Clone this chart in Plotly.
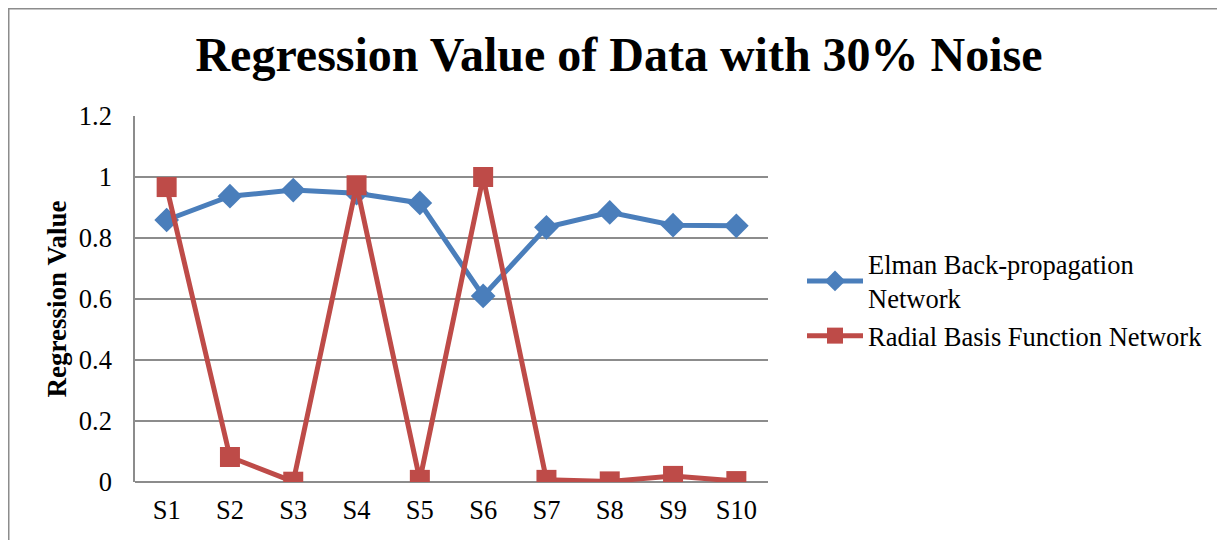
import plotly.graph_objects as go

categories = ["S1", "S2", "S3", "S4", "S5", "S6", "S7", "S8", "S9", "S10"]
elman = [0.859, 0.937, 0.957, 0.947, 0.915, 0.610, 0.835, 0.884, 0.842, 0.840]
rbf = [0.967, 0.082, 0.001, 0.973, 0.007, 1.000, 0.007, 0.002, 0.020, 0.003]
y_ticks = [0, 0.2, 0.4, 0.6, 0.8, 1, 1.2]
y_tick_text = ["0", "0.2", "0.4", "0.6", "0.8", "1", "1.2"]

# page body has an 8px margin; figure coordinates = screen - 8
W, H = 1217, 532
L, T = 127, 108
pw, ph = 633, 366
R, B = W - L - pw, H - T - ph

fig = go.Figure()
fig.add_trace(go.Scatter(
    x=categories, y=elman, mode="lines+markers",
    name="Elman Back-propagation<br>Network",
    line=dict(color="#4a7ebb", width=5),
    marker=dict(symbol="diamond", size=19, color="#4a7ebb"),
))
fig.add_trace(go.Scatter(
    x=categories, y=rbf, mode="lines+markers",
    name="Radial Basis Function Network",
    line=dict(color="#be4b48", width=5),
    marker=dict(symbol="square", size=20, color="#be4b48"),
))

font_family = "Liberation Serif, Times New Roman, serif"

fig.update_layout(
    width=W, height=H,
    margin=dict(l=L, r=R, t=T, b=B, autoexpand=False),
    paper_bgcolor="white", plot_bgcolor="white",
    font=dict(family=font_family, size=26, color="black"),
    title=dict(
        text="<b>Regression Value of Data with 30% Noise</b>",
        x=611 / W, xanchor="center", y=1 - 46 / H, yanchor="middle",
        font=dict(family=font_family, size=48, color="black"),
    ),
    xaxis=dict(
        type="category", range=[-0.5, 9.5],
        showgrid=False, showline=False, zeroline=False,
        ticks="", tickfont=dict(size=26.5, family=font_family),
        ticklabelstandoff=9,
    ),
    yaxis=dict(
        range=[0, 1.2], tickvals=y_ticks, ticktext=y_tick_text,
        showgrid=True, gridcolor="#8c8c8c", gridwidth=1.5,
        showline=True, linecolor="#8c8c8c", linewidth=1.5,
        zeroline=True, zerolinecolor="#8c8c8c", zerolinewidth=1.5,
        ticks="", tickfont=dict(size=26.5, family=font_family),
        ticklabelstandoff=16,
        title=dict(text="<b>Regression Value</b>",
                   font=dict(size=27, family=font_family), standoff=4),
    ),
    legend=dict(
        x=(794 - L) / pw, xanchor="left",
        y=(474 - 232) / ph, yanchor="top",
        font=dict(size=26.5, family=font_family),
        bgcolor="rgba(0,0,0,0)", itemwidth=56,
        tracegroupgap=10,
    ),
    showlegend=True,
)

# outer chart frame (top & left edges visible)
fig.add_shape(type="rect", xref="paper", yref="paper",
              x0=(0.75 - L) / pw, x1=(W + 20 - L) / pw,
              y0=-(B + 20) / ph, y1=(ph + T - 0.75) / ph,
              line=dict(color="#8c8c8c", width=1.5), layer="below")

fig.write_html("out.html")
